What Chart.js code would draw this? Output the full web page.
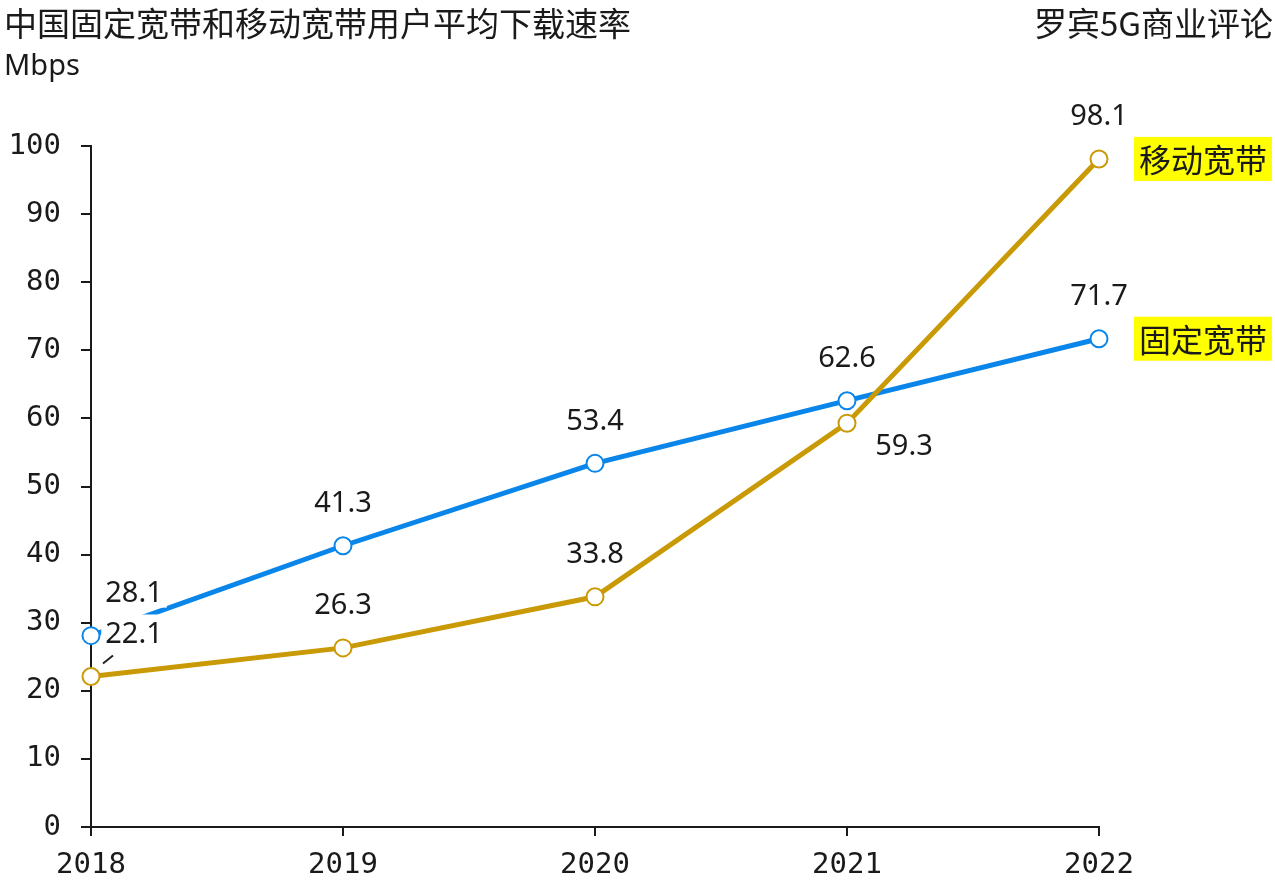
<!DOCTYPE html>
<html>
<head>
<meta charset="utf-8">
<script src="https://cdn.jsdelivr.net/npm/chart.js@4.4.0/dist/chart.umd.min.js"></script>
<style>
  body { margin: 0; background: #fff; }
  #wrap { width: 1275px; height: 887px; position: relative; }
</style>
</head>
<body>
<div id="wrap"><canvas id="chart"></canvas></div>
<script>
// data
var years       = ['2018', '2019', '2020', '2021', '2022'];
var fixedSpeed  = [28.1, 41.3, 53.4, 62.6, 71.7];
var mobileSpeed = [22.1, 26.3, 33.8, 59.3, 98.1];
var seriesNames = ['固定宽带', '移动宽带'];

var BLUE = '#0a86ea';
var GOLD = '#c99a05';
var CJK  = '"Noto Sans CJK SC", "Noto Sans", sans-serif';

// label offsets from the point (px)
var fixedOffsets  = [[43, -42], [0, -42], [0, -42], [0, -42], [0, -42]];
var mobileOffsets = [[43, -42], [0, -42], [0, -42], [57, 24], [0, -42]];

var labelPlugin = {
    id: 'labels',
    afterDatasetsDraw: function(chart) {
        var ctx = chart.ctx;
        ctx.save();
        ctx.font = '29px "Noto Sans", sans-serif';
        ctx.textAlign = 'center';
        ctx.textBaseline = 'middle';

        var drawSet = function(idx, offsets) {
            var meta = chart.getDatasetMeta(idx);
            var data = chart.data.datasets[idx].data;
            meta.data.forEach(function(pt, i) {
                var x = pt.x + offsets[i][0];
                var y = pt.y + offsets[i][1];
                var txt = data[i].toFixed(1);
                var w = ctx.measureText(txt).width;
                ctx.fillStyle = '#fff';
                ctx.fillRect(x - w / 2 - 4, y - 20, w + 8, 34);
                ctx.fillStyle = '#1a1a1a';
                ctx.fillText(txt, x, y);
            });
        };
        drawSet(1, fixedOffsets);
        drawSet(0, mobileOffsets);

        // leader line for 22.1
        var p = chart.getDatasetMeta(0).data[0];
        ctx.strokeStyle = '#222';
        ctx.lineWidth = 2;
        ctx.beginPath();
        ctx.moveTo(p.x + 12, p.y - 13);
        ctx.lineTo(p.x + 22, p.y - 21);
        ctx.stroke();

        // series tags at the right
        ctx.font = '32px ' + CJK;
        ctx.textAlign = 'left';
        var tag = function(idx, name) {
            var last = chart.getDatasetMeta(idx).data[4];
            var w = ctx.measureText(name).width;
            ctx.fillStyle = '#ffff00';
            ctx.fillRect(1134, last.y - 22, w + 10, 44);
            ctx.fillStyle = '#1a1a1a';
            ctx.fillText(name, 1139, last.y + 1);
        };
        tag(0, seriesNames[1]);
        tag(1, seriesNames[0]);

        // titles
        ctx.font = '33px ' + CJK;
        ctx.fillText('中国固定宽带和移动宽带用户平均下载速率', 4, 23);
        ctx.font = '29px "Noto Sans", sans-serif';
        ctx.fillText('Mbps', 4, 67);
        ctx.font = '33px ' + CJK;
        ctx.textAlign = 'right';
        ctx.fillText('罗宾5G商业评论', 1273, 23);
        ctx.restore();
    }
};

var tickFont = { family: '"DejaVu Sans Mono", monospace', size: 29 };

new Chart(document.getElementById('chart'), {
    type: 'line',
    data: {
        labels: years,
        datasets: [
            {
                label: seriesNames[1],
                data: mobileSpeed,
                borderColor: GOLD,
                borderWidth: 5,
                pointRadius: 8.5,
                pointBorderWidth: 2,
                pointBackgroundColor: '#fff',
                pointBorderColor: GOLD,
                tension: 0
            }, {
                label: seriesNames[0],
                data: fixedSpeed,
                borderColor: BLUE,
                borderWidth: 5,
                pointRadius: 8.5,
                pointBorderWidth: 2,
                pointBackgroundColor: '#fff',
                pointBorderColor: BLUE,
                tension: 0
            }
        ]
    },
    options: {
        responsive: true,
        maintainAspectRatio: false,
        animation: false,
        devicePixelRatio: 1,
        layout: { padding: { left: 0, right: 176, top: 146, bottom: 0 } },
        plugins: {
            legend: { display: false },
            tooltip: { enabled: false }
        },
        scales: {
            x: {
                offset: false,
                grid: { drawOnChartArea: false, drawTicks: true, tickLength: 9, color: '#1a1a1a', lineWidth: 2 },
                border: { color: '#1a1a1a', width: 2 },
                ticks: { color: '#1a1a1a', font: tickFont, padding: 12, maxRotation: 0 },
                afterFit: function(scale) { scale.height = 60; }
            },
            y: {
                min: 0,
                max: 100,
                grid: { drawOnChartArea: false, drawTicks: true, tickLength: 10, color: '#1a1a1a', lineWidth: 2 },
                border: { color: '#1a1a1a', width: 2 },
                ticks: { stepSize: 10, color: '#1a1a1a', font: tickFont, padding: 20 },
                afterFit: function(scale) { scale.width = 91; }
            }
        }
    },
    plugins: [labelPlugin]
});
</script>
</body>
</html>
